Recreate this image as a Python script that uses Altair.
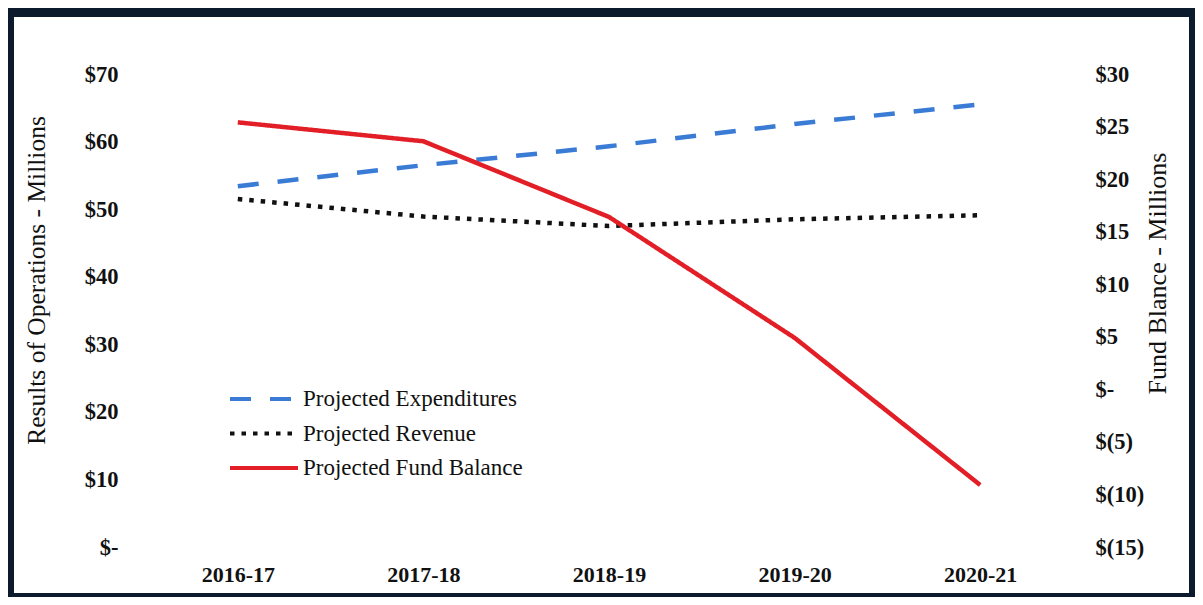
import altair as alt
import pandas as pd

years = ["2016-17", "2017-18", "2018-19", "2019-20", "2020-21"]
expenditures = [53.4, 56.5, 59.3, 62.6, 65.5]
revenue = [51.5, 48.9, 47.5, 48.5, 49.1]
fund_balance = [25.4, 23.6, 16.4, 4.9, -9.1]
series_names = ["Projected Expenditures", "Projected Revenue", "Projected Fund Balance"]
series_colors = ["#3a7bd5", "#111111", "#e21f26"]
left_ticks = [0, 10, 20, 30, 40, 50, 60, 70]
right_ticks = [-15, -10, -5, 0, 5, 10, 15, 20, 25, 30]

ops = pd.DataFrame({
    "year": years * 2,
    "value": expenditures + revenue,
    "series": [series_names[0]] * 5 + [series_names[1]] * 5,
})
fund = pd.DataFrame({"year": years, "value": fund_balance, "series": [series_names[2]] * 5})

W, H = 928, 473
FONT = "Liberation Serif"

legend = alt.Legend(
    title=None, orient="none", legendX=100, legendY=306,
    symbolType="M-2,0H2", symbolStrokeWidth=4, symbolSize=1156,
    labelFont=FONT, labelFontSize=23, labelColor="#111", labelOffset=20,
    labelLimit=500, rowPadding=3.5,
)
color = alt.Color("series:N", scale=alt.Scale(domain=series_names, range=series_colors), legend=legend)
dash = alt.StrokeDash("series:N", scale=alt.Scale(domain=series_names, range=[[21, 19], [4.5, 7], [1, 0]]), legend=legend)

xenc = alt.X("year:O", scale=alt.Scale(type="point", domain=years, padding=0.5),
             axis=alt.Axis(title=None, labelAngle=0, ticks=False, domain=False, grid=False,
                           labelFont=FONT, labelFontSize=22, labelFontWeight="bold",
                           labelColor="#111", labelPadding=17, zindex=1))

frame = alt.Chart(pd.DataFrame({"a": [0]})).mark_rect(color="white").encode(
    x=alt.value(-131), x2=alt.value(W + 116), y=alt.value(-57), y2=alt.value(H + 46)
)

left = alt.Chart(ops).mark_line(strokeWidth=4.5).encode(
    x=xenc,
    y=alt.Y("value:Q", scale=alt.Scale(domain=[0, 70], nice=False, zero=False),
            axis=alt.Axis(values=left_ticks, grid=False, domain=False, ticks=False, zindex=1,
                          labelExpr="datum.value == 0 ? '$-' : '$' + datum.value",
                          labelFont=FONT, labelFontSize=22.5, labelFontWeight="bold",
                          labelColor="#111", labelPadding=27,
                          title="Results of Operations - Millions", titleFont=FONT,
                          titleFontSize=25.5, titleFontWeight="normal", titleColor="#111",
                          titleAngle=270, titleX=-109, titleY=206, titleBaseline="middle",
                          titleAlign="center")),
    color=color, strokeDash=dash,
)

right = alt.Chart(fund).mark_line(strokeWidth=4.5).encode(
    x=xenc,
    y=alt.Y("value:Q", scale=alt.Scale(domain=[-15, 30], nice=False, zero=False),
            axis=alt.Axis(orient="right", values=right_ticks, grid=False, domain=False, ticks=False, zindex=1,
                          labelExpr="datum.value == 0 ? '$-' : (datum.value < 0 ? '$(' + (-datum.value) + ')' : '$' + datum.value)",
                          labelFont=FONT, labelFontSize=22.5, labelFontWeight="bold",
                          labelColor="#111", labelPadding=22,
                          title="Fund Blance - Millions", titleFont=FONT,
                          titleFontSize=26, titleFontWeight="normal", titleColor="#111",
                          titleAngle=270, titleX=84, titleY=199, titleBaseline="middle",
                          titleAlign="center")),
    color=color, strokeDash=dash,
)

chart = alt.layer(frame, left, right).resolve_scale(y="independent").properties(
    width=W, height=H,
    autosize=alt.AutoSizeParams(type="none"),
    padding={"left": 137, "top": 66, "right": 122, "bottom": 50},
    background="#0b1a2c",
).configure_view(stroke=None)

chart.save("out.html", embed_options={"renderer": "svg", "actions": False})
